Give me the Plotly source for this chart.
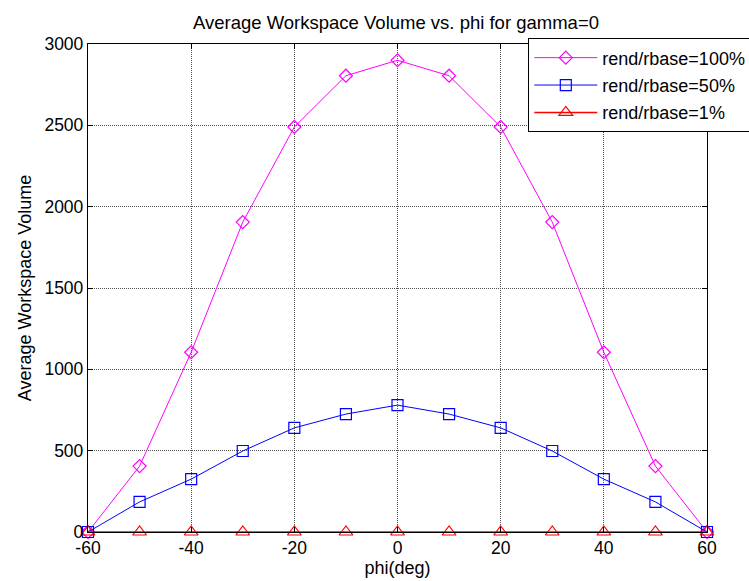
import plotly.graph_objects as go

phi = [-60, -50, -40, -30, -20, -10, 0, 10, 20, 30, 40, 50, 60]
vol_100 = [0, 405, 1105, 1905, 2490, 2805, 2900, 2805, 2490, 1905, 1105, 405, 0]
vol_50 = [0, 185, 325, 498, 640, 725, 780, 725, 640, 498, 325, 185, 0]
vol_1 = [0, 0, 0, 0, 0, 0, 0, 0, 0, 0, 0, 0, 0]

x_ticks = [-60, -40, -20, 0, 20, 40, 60]
y_ticks = [0, 500, 1000, 1500, 2000, 2500, 3000]

font = "Liberation Sans, Arial, sans-serif"

fig = go.Figure()
fig.add_trace(go.Scatter(x=phi, y=vol_100, mode="lines+markers", name="rend/rbase=100%",
                         legendgroup="a",
                         line=dict(color="#ff00ff", width=1),
                         marker=dict(symbol="diamond-open", size=10, color="#ff00ff", line=dict(width=1.2)),
                         cliponaxis=False))
fig.add_trace(go.Scatter(x=phi, y=vol_50, mode="lines+markers", name="rend/rbase=50%",
                         legendgroup="b",
                         line=dict(color="#0000ff", width=1),
                         marker=dict(symbol="square-open", size=11, color="#0000ff", line=dict(width=1.2)),
                         cliponaxis=False))
fig.add_trace(go.Scatter(x=phi, y=vol_1, mode="lines+markers", name="rend/rbase=1%",
                         legendgroup="c",
                         line=dict(color="#ff0000", width=1.5),
                         marker=dict(symbol="triangle-up-open", size=12, color="#ff0000", line=dict(width=1.2)),
                         cliponaxis=False))

axis_common = dict(showline=True, linecolor="black", linewidth=1.3, mirror="ticks",
                   ticks="inside", ticklen=5, tickcolor="black",
                   showgrid=True, gridcolor="#505050", griddash="1px,1px", gridwidth=1,
                   zeroline=False, tickfont=dict(family=font, size=17.5, color="black"))

fig.update_layout(
    width=749, height=581,
    margin=dict(l=88, r=42, t=44, b=49, autoexpand=False),
    paper_bgcolor="white", plot_bgcolor="white",
    title=dict(text="Average Workspace Volume vs. phi for gamma=0", x=(192 + 600) / 2 / 749, xanchor="center",
               y=1 - 23 / 581, yanchor="middle", font=dict(family=font, size=18.5, color="black")),
    xaxis=dict(range=[-60, 60], tickvals=x_ticks, ticktext=[str(v) for v in x_ticks],
               title=dict(text="phi(deg)", font=dict(family=font, size=18, color="black"), standoff=2),
               **axis_common),
    yaxis=dict(range=[0, 3000], tickvals=y_ticks, ticktext=[str(v) for v in y_ticks],
               title=dict(text="Average Workspace Volume", font=dict(family=font, size=18, color="black"), standoff=8),
               **axis_common),
    legend=dict(x=(528 - 88) / 619, y=1.012, xanchor="left", yanchor="top",
                bgcolor="white", bordercolor="black", borderwidth=1.3,
                font=dict(family=font, size=18, color="black"), itemwidth=63,
                tracegroupgap=1),
    showlegend=True,
)

fig.write_html("out.html")
